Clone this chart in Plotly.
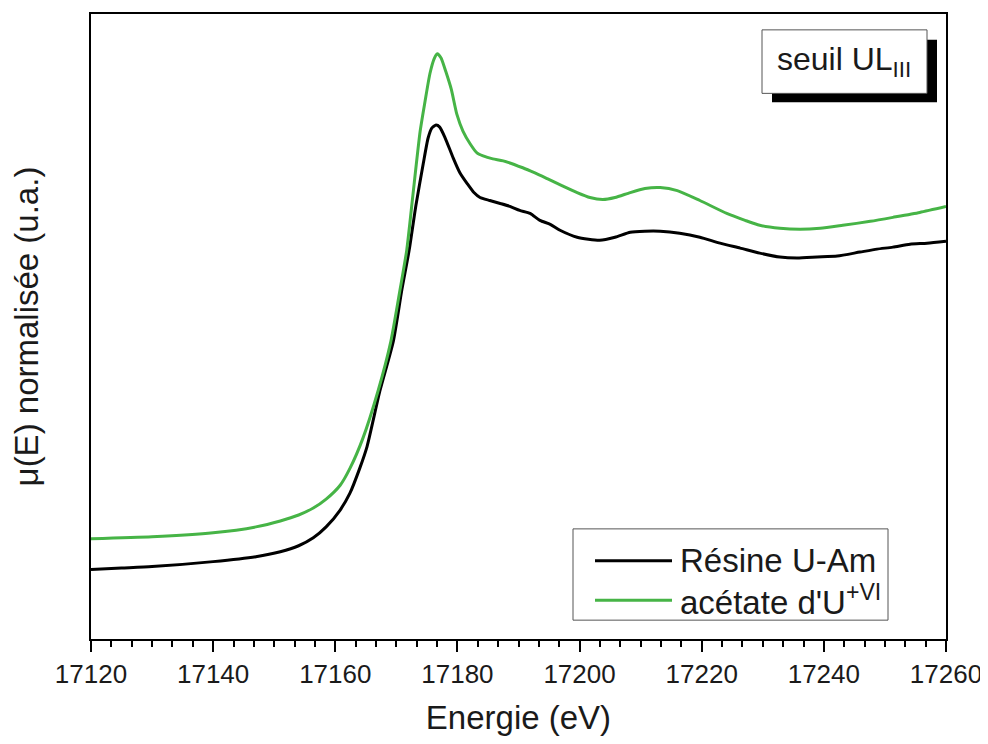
import plotly.graph_objects as go

# Energy (eV) and normalised mu(E) (arbitrary units)
energy_resine = [17120, 17125, 17130, 17140, 17147, 17151, 17154, 17156.4, 17158.5, 17160.8,
                 17162.4, 17164, 17165.2, 17167.3, 17169.5, 17170.9, 17172.1, 17173.2, 17174.4,
                 17175.2, 17175.8, 17176.5, 17177.1, 17178, 17179.3, 17180.4, 17181.6, 17182.7,
                 17183.7, 17185.3, 17187, 17188.6, 17190.2, 17191.9, 17193.5, 17195.2, 17196.8,
                 17199.6, 17203.3, 17205.8, 17208.3, 17210.7, 17213.2, 17216.4, 17219.7, 17223,
                 17226.3, 17229.5, 17232.8, 17235.6, 17238.9, 17242.2, 17245.9, 17248.7, 17251.3,
                 17254.1, 17256.9, 17260]
mu_resine = [0.70, 0.715, 0.73, 0.78, 0.83, 0.88, 0.94, 1.02, 1.13, 1.30,
             1.47, 1.72, 1.94, 2.50, 3.00, 3.52, 3.92, 4.37, 4.79,
             5.05, 5.15, 5.18, 5.16, 5.05, 4.85, 4.70, 4.59, 4.50,
             4.45, 4.42, 4.39, 4.36, 4.32, 4.29, 4.22, 4.18, 4.12,
             4.05, 4.02, 4.05, 4.10, 4.11, 4.11, 4.09, 4.05, 3.99,
             3.94, 3.89, 3.85, 3.84, 3.85, 3.86, 3.90, 3.93, 3.95,
             3.98, 3.99, 4.01]

energy_acetate = [17120, 17130, 17140, 17147, 17151, 17154, 17156.4, 17158.5, 17160.8, 17162.4,
                  17164.5, 17167.0, 17169.1, 17170.6, 17171.7, 17172.7, 17173.9, 17174.7, 17175.5,
                  17176.2, 17176.7, 17177.3, 17178.1, 17179, 17179.9, 17180.9, 17182.1, 17183.2,
                  17184.2, 17185.8, 17187.5, 17190.7, 17192.6, 17194.7, 17197.1, 17199.6, 17201.7,
                  17203.8, 17205.8, 17208.3, 17210.7, 17213.2, 17216, 17219.7, 17224.1, 17227.1,
                  17229.5, 17232.8, 17236.1, 17239.4, 17243.1, 17247.6, 17251.3, 17255.7, 17260]
mu_acetate = [1.01, 1.03, 1.07, 1.13, 1.19, 1.25, 1.32, 1.41, 1.55, 1.72,
              2.02, 2.50, 3.00, 3.52, 3.92, 4.47, 5.12, 5.42, 5.70,
              5.85, 5.90, 5.86, 5.72, 5.54, 5.29, 5.12, 4.99, 4.90,
              4.87, 4.84, 4.82, 4.75, 4.70, 4.64, 4.57, 4.50, 4.45,
              4.43, 4.45, 4.50, 4.54, 4.55, 4.52, 4.42, 4.29, 4.22,
              4.17, 4.14, 4.13, 4.14, 4.17, 4.21, 4.25, 4.30, 4.36]

x_ticks = [17120, 17140, 17160, 17180, 17200, 17220, 17240, 17260]
series_names = ["Résine U-Am", "acétate d'U<sup>+VI</sup>"]
series_colors = ["#000000", "#46b446"]

FONT = "Liberation Sans, Arial, sans-serif"
TXT = "#1a1a1a"

fig = go.Figure()
fig.add_trace(go.Scatter(x=energy_resine, y=mu_resine, mode="lines", name=series_names[0],
                         line=dict(color=series_colors[0], width=3, shape="spline", smoothing=0.6)))
fig.add_trace(go.Scatter(x=energy_acetate, y=mu_acetate, mode="lines", name=series_names[1],
                         line=dict(color=series_colors[1], width=3, shape="spline", smoothing=0.6)))

# The page body has an 8 px margin, so the figure is offset by 8 px.
fig.update_layout(
    width=980, height=728,
    margin=dict(l=83, r=42, t=4, b=94),
    paper_bgcolor="white", plot_bgcolor="white",
    showlegend=False,
    font=dict(family=FONT, color=TXT),
    xaxis=dict(
        range=[17120, 17260], tickvals=x_ticks, ticktext=[str(v) for v in x_ticks],
        ticklabeloverflow="allow",
        showline=True, linecolor="black", linewidth=2, mirror=True,
        ticks="outside", ticklen=11, tickwidth=2, tickcolor="black",
        minor=dict(dtick=20 / 6, ticks="outside", ticklen=6, tickwidth=2, tickcolor="black", tick0=17120),
        showgrid=False, zeroline=False,
        tickfont=dict(size=26, family=FONT, color=TXT),
        title=dict(text="Energie (eV)", font=dict(size=33, family=FONT, color=TXT), standoff=20),
    ),
    yaxis=dict(
        range=[0, 6.30], showticklabels=False, ticks="",
        showline=True, linecolor="black", linewidth=2, mirror=True,
        showgrid=False, zeroline=False,
        title=dict(text="μ(E) normalisée (u.a.)", font=dict(size=33, family=FONT, color=TXT), standoff=40),
    ),
)

def px2x(px):
    return (px - 91) / 855.0

def px2y(py):
    return (642 - py) / 630.0

shapes = []
# "seuil UL_III" box with shadow
shapes.append(dict(type="rect", xref="paper", yref="paper", x0=px2x(772), x1=px2x(937), y0=px2y(101), y1=px2y(38),
                   fillcolor="black", line=dict(width=0), layer="above"))
shapes.append(dict(type="rect", xref="paper", yref="paper", x0=px2x(762), x1=px2x(927), y0=px2y(92), y1=px2y(28),
                   fillcolor="white", line=dict(color="#555555", width=1), layer="above"))
# legend box
shapes.append(dict(type="rect", xref="paper", yref="paper", x0=px2x(573), x1=px2x(888), y0=px2y(623), y1=px2y(531),
                   fillcolor="white", line=dict(color="#555555", width=1), layer="above"))
row_y = [563, 603]
for c, ry in zip(series_colors, row_y):
    shapes.append(dict(type="line", xref="paper", yref="paper", x0=px2x(595), x1=px2x(672), y0=px2y(ry), y1=px2y(ry),
                       line=dict(color=c, width=3), layer="above"))
fig.update_layout(shapes=shapes)

annotations = [dict(xref="paper", yref="paper", x=px2x(844), y=px2y(60), text="seuil UL<sub>III</sub>",
                    showarrow=False, xanchor="center", yanchor="middle",
                    font=dict(size=32, family=FONT, color=TXT))]
for name, ry in zip(series_names, row_y):
    annotations.append(dict(xref="paper", yref="paper", x=px2x(678), y=px2y(ry), text=name,
                            showarrow=False, xanchor="left", yanchor="middle",
                            font=dict(size=33, family=FONT, color=TXT)))
fig.update_layout(annotations=annotations)

fig.write_html("out.html")
